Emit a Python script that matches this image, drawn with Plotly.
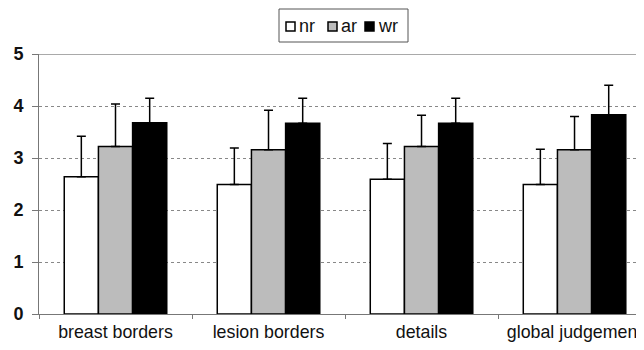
import plotly.graph_objects as go

categories = ["breast borders", "lesion borders", "details", "global judgement"]
series_names = ["nr", "ar", "wr"]
nr_values = [2.64, 2.49, 2.59, 2.49]
ar_values = [3.22, 3.16, 3.22, 3.16]
wr_values = [3.68, 3.67, 3.67, 3.83]
nr_err = [0.78, 0.70, 0.69, 0.68]
ar_err = [0.82, 0.76, 0.60, 0.64]
wr_err = [0.47, 0.48, 0.48, 0.57]
y_ticks = [0, 1, 2, 3, 4, 5]

colors = ["#ffffff", "#bcbcbc", "#000000"]
FONT = "Liberation Sans, Arial, sans-serif"

# the page body adds an 8px offset; the figure covers the rest of the window
OFF = 8
W, H = 644 - OFF, 350 - OFF
ML, MR, MT, MB = 39 - OFF, 0, 54 - OFF, 36
PW, PH = W - ML - MR, H - MT - MB


def px(x):
    return (x - OFF - ML) / PW


def py(y):
    return (H - MB - (y - OFF)) / PH


fig = go.Figure()
for name, vals, errs, col in zip(series_names, [nr_values, ar_values, wr_values],
                                 [nr_err, ar_err, wr_err], colors):
    fig.add_trace(go.Bar(
        x=categories, y=vals, name=name, showlegend=False,
        marker=dict(color=col, line=dict(color="#000000", width=1.5)),
        error_y=dict(type="data", symmetric=False, array=errs,
                     arrayminus=[0] * len(errs), color="#000000",
                     thickness=1.5, width=4.5),
    ))

fig.update_layout(
    width=W, height=H,
    margin=dict(l=ML, r=MR, t=MT, b=MB, autoexpand=False),
    paper_bgcolor="white", plot_bgcolor="white",
    barmode="group", bargap=0.33, bargroupgap=0,
    font=dict(family=FONT, color="#111111"),
    showlegend=False,
)
fig.update_xaxes(
    range=[-0.5, 3.454], showgrid=False, showline=True, linecolor="#777777",
    linewidth=1, ticks="outside", tickson="boundaries", ticklen=4,
    tickcolor="#777777", tickfont=dict(size=17.8, family=FONT, color="#111111"),
    ticklabelstandoff=2, automargin=False,
)
fig.update_yaxes(
    range=[0, 5], tickvals=y_ticks, showgrid=True, gridcolor="#888888",
    griddash="dot", gridwidth=1, showline=True, linecolor="#777777",
    linewidth=1, ticks="outside", ticklen=6, tickcolor="#777777",
    tickfont=dict(size=18, family=FONT, color="#111111", weight="bold"),
    zeroline=False, ticklabelstandoff=5, automargin=False,
)
fig.add_shape(type="line", xref="paper", yref="y", x0=0, x1=1, y0=5, y1=5,
              line=dict(color="#555555", width=1.2))

# legend box drawn manually (compact, like the original)
fig.add_shape(type="rect", xref="paper", yref="paper",
              x0=px(279), x1=px(408), y0=py(42), y1=py(9),
              line=dict(color="#555555", width=1), fillcolor="white")
legend_sq_x = [286, 328, 365]
legend_txt_x = [297, 339, 376]
for name, col, sx, tx in zip(series_names, colors, legend_sq_x, legend_txt_x):
    fig.add_shape(type="rect", xref="paper", yref="paper",
                  x0=px(sx), x1=px(sx + 9), y0=py(31), y1=py(22),
                  line=dict(color="#000000", width=1.5), fillcolor=col)
    fig.add_annotation(text=name, xref="paper", yref="paper", x=px(tx), y=py(26),
                       xanchor="left", yanchor="middle", showarrow=False,
                       font=dict(size=18, family=FONT, color="#111111"))

fig.write_html("out.html")
